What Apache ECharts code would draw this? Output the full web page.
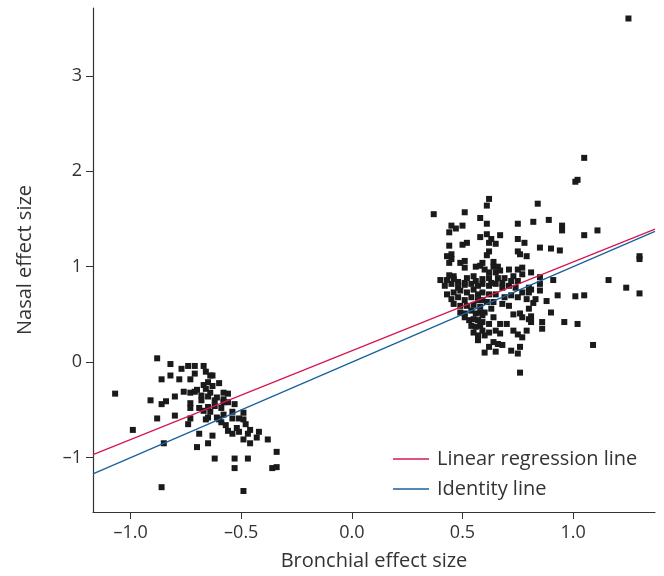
<!DOCTYPE html>
<html>
<head>
<meta charset="utf-8">
<script src="https://cdn.jsdelivr.net/npm/echarts@6/dist/echarts.min.js"></script>
<style>
  html, body { margin: 0; padding: 0; background: #fff; }
  #main { width: 664px; height: 576px; }
</style>
</head>
<body>
<div id="main"></div>
<script>
// bronchial (x) vs nasal (y) effect sizes
var lowCluster = [
  [-1.07,-0.33],[-0.88,0.04],[-0.82,-0.02],[-0.77,-0.07],[-0.74,-0.04],[-0.71,-0.04],[-0.67,-0.04],
  [-0.86,-0.18],[-0.82,-0.14],[-0.78,-0.18],[-0.73,-0.18],[-0.71,-0.12],[-0.66,-0.10],[-0.64,-0.14],
  [-0.63,-0.14],[-0.67,-0.24],[-0.65,-0.21],[-0.63,-0.25],[-0.60,-0.22],[-0.66,-0.28],[-0.64,-0.32],
  [-0.76,-0.31],[-0.73,-0.32],[-0.71,-0.31],[-0.70,-0.29],[-0.68,-0.35],[-0.68,-0.40],[-0.65,-0.36],
  [-0.62,-0.40],[-0.61,-0.37],[-0.58,-0.32],[-0.56,-0.33],[-0.58,-0.39],[-0.58,-0.42],[-0.56,-0.42],
  [-0.53,-0.44],[-0.91,-0.40],[-0.86,-0.44],[-0.84,-0.41],[-0.80,-0.36],[-0.73,-0.43],[-0.73,-0.48],
  [-0.69,-0.48],[-0.67,-0.51],[-0.65,-0.47],[-0.64,-0.52],[-0.62,-0.46],[-0.59,-0.48],[-0.54,-0.52],
  [-0.49,-0.53],[-0.88,-0.59],[-0.80,-0.56],[-0.73,-0.59],[-0.66,-0.60],[-0.65,-0.58],[-0.61,-0.58],
  [-0.60,-0.60],[-0.58,-0.55],[-0.54,-0.59],[-0.51,-0.59],[-0.49,-0.60],[-0.59,-0.63],[-0.57,-0.66],
  [-0.48,-0.65],[-0.74,-0.65],[-0.99,-0.71],[-0.56,-0.72],[-0.54,-0.75],[-0.52,-0.69],[-0.51,-0.73],
  [-0.46,-0.71],[-0.47,-0.75],[-0.42,-0.73],[-0.69,-0.75],[-0.63,-0.77],[-0.49,-0.81],[-0.43,-0.79],
  [-0.38,-0.81],[-0.46,-0.85],[-0.85,-0.85],[-0.70,-0.89],[-0.65,-0.85],[-0.34,-0.94],[-0.62,-1.01],
  [-0.53,-1.01],[-0.47,-1.01],[-0.53,-1.11],[-0.36,-1.11],[-0.34,-1.10],[-0.86,-1.31],[-0.49,-1.35]
];
var highCluster = [
  [0.37,1.55],[0.51,1.57],[0.58,1.51],[0.45,1.43],[0.47,1.40],[0.50,1.43],[0.44,1.36],[0.58,1.31],
  [0.44,1.22],[0.50,1.23],[0.52,1.25],[0.43,1.11],[0.45,1.13],[0.45,1.08],[0.44,1.04],[0.49,1.04],
  [0.51,1.06],[0.51,0.99],[0.56,1.00],[0.58,1.01],[0.44,0.91],[0.46,0.90],[0.40,0.86],[0.43,0.86],
  [0.46,0.87],[0.48,0.84],[0.52,0.88],[0.55,0.90],[0.56,0.85],[0.51,0.83],
  [0.62,1.71],[0.61,1.64],[0.61,1.45],[0.75,1.45],[0.61,1.34],[0.63,1.29],[0.67,1.33],[0.62,1.25],
  [0.65,1.24],[0.75,1.29],[0.78,1.25],[0.62,1.16],[0.61,1.12],[0.75,1.16],[0.76,1.13],[0.79,1.11],
  [0.59,1.04],[0.64,1.05],[0.64,1.00],[0.66,1.00],[0.60,0.97],[0.62,0.94],[0.65,0.94],[0.67,0.96],
  [0.71,0.97],[0.77,0.99],[0.75,0.97],[0.81,0.94],[0.77,0.92],[0.73,0.90],[0.69,0.88],[0.66,0.88],
  [0.62,0.88],[0.59,0.87],[0.63,0.83],[0.68,0.83],[0.72,0.85],[0.75,0.85],
  [0.42,0.80],[0.45,0.82],[0.48,0.78],[0.51,0.81],[0.54,0.82],[0.57,0.80],[0.43,0.71],[0.46,0.73],
  [0.49,0.75],[0.52,0.73],[0.55,0.76],[0.57,0.71],[0.45,0.66],[0.48,0.68],[0.51,0.65],[0.54,0.68],
  [0.57,0.65],[0.46,0.61],[0.49,0.59],[0.52,0.59],[0.55,0.60],[0.58,0.58],[0.49,0.52],[0.51,0.51],
  [0.54,0.54],[0.56,0.51],[0.58,0.52],[0.51,0.47],[0.53,0.44],[0.55,0.45],[0.57,0.44],[0.54,0.38],
  [0.56,0.37],[0.58,0.38],[0.55,0.31],[0.57,0.28],[0.57,0.23],
  [0.59,0.82],[0.62,0.80],[0.65,0.82],[0.68,0.78],[0.71,0.80],[0.74,0.78],[0.80,0.78],[0.77,0.73],
  [0.80,0.73],[0.59,0.73],[0.62,0.71],[0.65,0.71],[0.69,0.68],[0.72,0.70],[0.75,0.68],[0.79,0.66],
  [0.83,0.66],[0.59,0.65],[0.61,0.63],[0.64,0.63],[0.68,0.61],[0.71,0.59],[0.80,0.56],[0.63,0.56],
  [0.60,0.52],[0.59,0.49],[0.64,0.47],[0.73,0.50],[0.76,0.51],[0.77,0.47],[0.80,0.45],[0.81,0.42],
  [0.67,0.40],[0.70,0.40],[0.59,0.42],[0.62,0.40],[0.59,0.33],[0.62,0.31],[0.65,0.33],[0.67,0.30],
  [0.73,0.33],[0.75,0.29],[0.77,0.26],[0.79,0.33],[0.60,0.28],[0.64,0.21],[0.66,0.19],[0.68,0.18],
  [0.62,0.16],[0.60,0.10],[0.65,0.11],[0.72,0.12],[0.75,0.09],[0.76,0.16],[0.76,-0.11],
  [0.84,1.66],[0.82,1.47],[0.89,1.49],[0.95,1.43],[0.95,1.38],[1.05,1.33],[1.11,1.38],[0.85,1.20],
  [0.90,1.19],[0.94,1.17],[1.30,1.11],[1.30,1.08],[0.85,0.89],[0.85,0.82],[0.91,0.86],[1.16,0.86],
  [1.24,0.78],[1.30,0.72],[0.81,0.76],[0.85,0.75],[0.93,0.70],[1.01,0.69],[1.05,0.70],[0.82,0.62],
  [0.88,0.64],[0.90,0.52],[0.81,0.48],[0.86,0.42],[0.96,0.42],[1.02,0.40],[0.86,0.35],[1.09,0.18],
  [1.05,2.14],[1.01,1.89],[1.02,1.91],[1.25,3.60]
];
var regression = { intercept: 0.12, slope: 0.93 };
var xRange = [-1.17, 1.37];
var yRange = [-1.57, 3.71];
var xTicks = [-1.0, -0.5, 0.0, 0.5, 1.0];
var yTicks = [-1, 0, 1, 2, 3];

var regressionLine = xRange.map(function (x) { return [x, regression.intercept + regression.slope * x]; });
var identityLine = xRange.map(function (x) { return [x, x]; });

function minus(s) { return String(s).replace('-', '\u2013'); }

var chart = echarts.init(document.getElementById('main'));
var font = '"Open Sans", Roboto, sans-serif';
chart.setOption({
  animation: false,
  textStyle: { fontFamily: font },
  grid: { left: 93, right: 9, top: 8, bottom: 61 },
  legend: {
    data: ['Linear regression line', 'Identity line'],
    orient: 'vertical',
    left: 388,
    top: 444,
    itemWidth: 36,
    itemHeight: 1.5,
    itemGap: 10,
    icon: 'rect',
    textStyle: { fontSize: 20, color: '#333', fontFamily: font, padding: [0, 0, 0, 3] }
  },
  xAxis: {
    type: 'value',
    min: xRange[0],
    max: xRange[1],
    name: 'Bronchial effect size',
    nameLocation: 'middle',
    nameGap: 39,
    nameTextStyle: { fontSize: 20, color: '#333' },
    axisLine: { onZero: false, lineStyle: { color: '#333', width: 1.2 } },
    axisTick: { customValues: xTicks, length: 7, lineStyle: { color: '#333' } },
    axisLabel: {
      customValues: xTicks, fontSize: 18, color: '#333', margin: 12,
      formatter: function (v) { return minus(v.toFixed(1)); }
    },
    splitLine: { show: false }
  },
  yAxis: {
    type: 'value',
    min: yRange[0],
    max: yRange[1],
    name: 'Nasal effect size',
    nameLocation: 'middle',
    nameGap: 58,
    nameTextStyle: { fontSize: 20, color: '#333' },
    axisLine: { show: true, onZero: false, lineStyle: { color: '#333', width: 1.2 } },
    axisTick: { show: true, customValues: yTicks, length: 7, lineStyle: { color: '#333' } },
    axisLabel: {
      customValues: yTicks, fontSize: 18, color: '#333', margin: 11,
      formatter: function (v) { return minus(v); }
    },
    splitLine: { show: false }
  },
  series: [
    {
      name: 'Low',
      type: 'scatter',
      data: lowCluster,
      symbol: 'rect',
      symbolSize: 6,
      itemStyle: { color: '#1a1a1a', opacity: 1 }
    },
    {
      name: 'High',
      type: 'scatter',
      data: highCluster,
      symbol: 'rect',
      symbolSize: 6,
      itemStyle: { color: '#1a1a1a', opacity: 1 }
    },
    {
      name: 'Linear regression line',
      type: 'line',
      data: regressionLine,
      symbol: 'none',
      lineStyle: { color: '#d6184f', width: 1.3 },
      itemStyle: { color: '#d6184f' }
    },
    {
      name: 'Identity line',
      type: 'line',
      data: identityLine,
      symbol: 'none',
      lineStyle: { color: '#17619f', width: 1.3 },
      itemStyle: { color: '#17619f' }
    }
  ]
});
window.addEventListener('resize', function () { chart.resize(); });
</script>
</body>
</html>
